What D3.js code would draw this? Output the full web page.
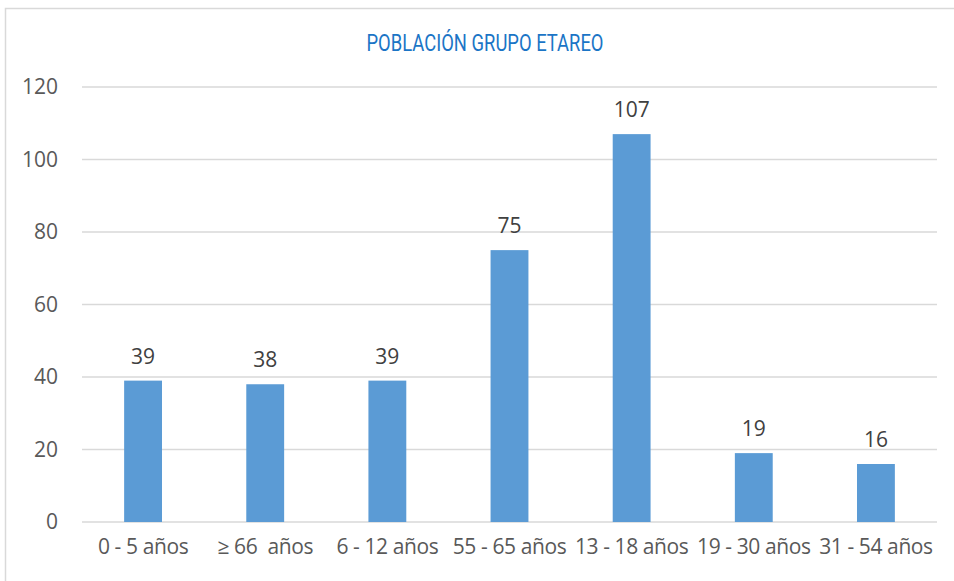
<!DOCTYPE html>
<html>
<head>
<meta charset="utf-8">
<script src="https://cdn.jsdelivr.net/npm/d3@7"></script>
<style>
  body { margin: 0; background: #fff; }
  .tick text { fill: #595959; white-space: pre; }
</style>
</head>
<body>
<div id="vis-container"></div>
<script>
// data
var categories = ["0 - 5 años", "\u2265 66  años", "6 - 12 años", "55 - 65 años", "13 - 18 años", "19 - 30 años", "31 - 54 años"];
var values = [39, 38, 39, 75, 107, 19, 16];
var yTicks = [0, 20, 40, 60, 80, 100, 120];

var W = 954, H = 581;
var margin = { top: 87, right: 17, bottom: 59, left: 82 };
var width = W - margin.left - margin.right;
var height = H - margin.top - margin.bottom;
var fontSize = "21px";

var svg = d3.select("#vis-container")
  .append("svg")
    .attr("width", W)
    .attr("height", H);

// chart border
svg.append("rect")
  .attr("x", 5.5).attr("y", 8.5)
  .attr("width", W + 10).attr("height", H + 10)
  .attr("fill", "none")
  .attr("stroke", "#d9d9d9")
  .attr("stroke-width", 1.5);

svg.append("text")
  .attr("x", 485)
  .attr("y", 51)
  .attr("text-anchor", "middle")
  .attr("textLength", 237)
  .attr("lengthAdjust", "spacingAndGlyphs")
  .style("font-family", "Roboto, sans-serif")
  .style("font-size", "23px")
  .style("fill", "#1b75c6")
  .text("POBLACIÓN GRUPO ETAREO");

var canvas = svg.append("g")
  .attr("transform", "translate(" + margin.left + "," + margin.top + ")");

var xScale = d3.scaleBand()
  .domain(categories)
  .range([0, width])
  .padding(0);

var yScale = d3.scaleLinear()
  .domain([0, 120])
  .range([height, 0]);

// gridlines
canvas.selectAll(".grid")
  .data(yTicks)
  .enter().append("line")
    .attr("class", "grid")
    .attr("x1", 0).attr("x2", width)
    .attr("y1", function(d) { return yScale(d); })
    .attr("y2", function(d) { return yScale(d); })
    .attr("stroke", "#d9d9d9")
    .attr("stroke-width", 1.3);

// y axis labels
var yAxis = d3.axisLeft(yScale).tickValues(yTicks).tickSize(0).tickPadding(24);
canvas.append("g")
  .attr("class", "y axis")
  .call(yAxis)
  .call(function(g) { g.select(".domain").remove(); })
  .selectAll("text")
    .style("font-family", "'Open Sans', sans-serif")
    .style("font-size", fontSize);

// x axis labels
var xAxis = d3.axisBottom(xScale).tickSize(0).tickPadding(17);
canvas.append("g")
  .attr("class", "x axis")
  .attr("transform", "translate(0," + height + ")")
  .call(xAxis)
  .call(function(g) { g.select(".domain").remove(); })
  .selectAll("text")
    .style("font-family", "'Open Sans', sans-serif")
    .style("font-size", fontSize)
    .style("letter-spacing", "-0.4px");

var barW = xScale.bandwidth() * 0.31;

canvas.selectAll(".bar")
  .data(values)
  .enter().append("rect")
    .attr("class", "bar")
    .attr("x", function(d, i) { return xScale(categories[i]) + xScale.bandwidth() / 2 - barW / 2; })
    .attr("y", function(d) { return yScale(d); })
    .attr("width", barW)
    .attr("height", function(d) { return height - yScale(d); })
    .style("fill", "#5b9bd5");

canvas.selectAll(".label")
  .data(values)
  .enter().append("text")
    .attr("class", "label")
    .attr("x", function(d, i) { return xScale(categories[i]) + xScale.bandwidth() / 2; })
    .attr("y", function(d) { return yScale(d) - 17; })
    .attr("text-anchor", "middle")
    .style("font-family", "'Open Sans', sans-serif")
    .style("font-size", fontSize)
    .style("fill", "#404040")
    .text(function(d) { return d; });
</script>
</body>
</html>
